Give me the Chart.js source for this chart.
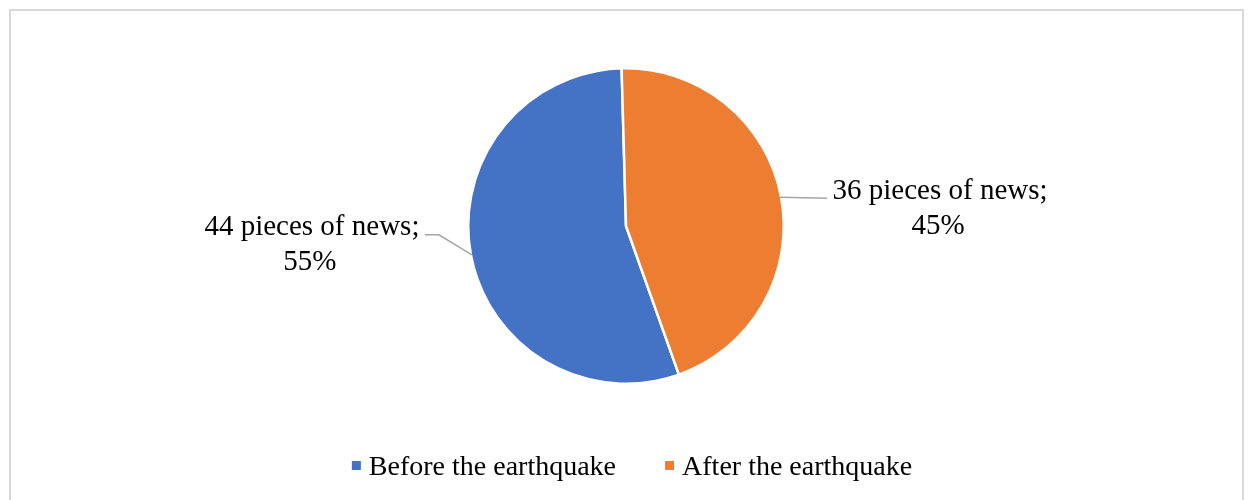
<!DOCTYPE html>
<html>
<head>
<meta charset="utf-8">
<title>News before and after the earthquake</title>
<script src="https://cdn.jsdelivr.net/npm/chart.js@4/dist/chart.umd.min.js"></script>
<style>
  html, body { margin: 0; padding: 0; background: #ffffff; }
  #wrap { width: 1248px; height: 500px; }
</style>
</head>
<body>
<div id="wrap"><canvas id="chart" width="1248" height="500"></canvas></div>
<script>
// Number of news items, split by period
const categories = ['Before the earthquake', 'After the earthquake'];
const newsCounts = [44, 36];
const sliceColors = ['#4472C4', '#ED7D31'];

const SERIF = '"Liberation Serif", "Times New Roman", serif';

// Data-label placement for each slice, relative to the point where the
// slice's mid-angle meets the rim. Leader lines run from that point.
const labelLayout = [
  { textDx: -160, baselineDy: -20, leader: [[-33, -20], [-47, -20]] },
  { textDx: 160, baselineDy: 2, leader: [[47, 1]] }
];

// Light grey frame round the chart
const framePlugin = {
  id: 'frame',
  beforeDraw(chart) {
    const ctx = chart.ctx;
    ctx.save();
    ctx.fillStyle = '#ffffff';
    ctx.fillRect(0, 0, chart.width, chart.height);
    ctx.strokeStyle = '#d9d9d9';
    ctx.lineWidth = 2;
    ctx.strokeRect(10, 10, chart.width - 15, chart.height + 100);
    ctx.restore();
  }
};

// "N pieces of news; P%" labels with leader lines
const sliceLabelPlugin = {
  id: 'sliceLabels',
  afterDatasetsDraw(chart) {
    const ctx = chart.ctx;
    const ds = chart.data.datasets[0];
    const total = ds.data.reduce((a, b) => a + b, 0);
    const meta = chart.getDatasetMeta(0);
    ctx.save();
    meta.data.forEach((arc, i) => {
      const p = arc.getProps(['x', 'y', 'startAngle', 'endAngle', 'outerRadius'], true);
      const mid = (p.startAngle + p.endAngle) / 2;
      const px = p.x + Math.cos(mid) * (p.outerRadius - 1);
      const py = p.y + Math.sin(mid) * (p.outerRadius - 1);
      const lay = labelLayout[i];

      ctx.strokeStyle = '#a6a6a6';
      ctx.lineWidth = 1.5;
      ctx.beginPath();
      ctx.moveTo(px, py);
      lay.leader.forEach(([dx, dy]) => ctx.lineTo(px + dx, py + dy));
      ctx.stroke();

      const v = ds.data[i];
      const pct = Math.round(v / total * 100);
      ctx.fillStyle = '#000000';
      ctx.font = '29px ' + SERIF;
      ctx.textAlign = 'center';
      ctx.textBaseline = 'alphabetic';
      const tx = px + lay.textDx;
      const ty = py + lay.baselineDy;
      ctx.fillText(v + ' pieces of news;', tx, ty);
      ctx.fillText(pct + '%', tx - 2, ty + 35);
    });
    ctx.restore();
  }
};

// Legend row under the pie: small squares followed by the category names
const legendRowPlugin = {
  id: 'legendRow',
  afterDraw(chart) {
    const ctx = chart.ctx;
    const labels = chart.data.labels;
    const colors = chart.data.datasets[0].backgroundColor;
    const box = 9, boxGap = 8, itemGap = 49, baseline = 475, centerX = 632;
    ctx.save();
    ctx.font = '28px ' + SERIF;
    ctx.textBaseline = 'alphabetic';
    ctx.textAlign = 'left';
    const widths = labels.map(t => ctx.measureText(t).width);
    const total = widths.reduce((s, w) => s + box + boxGap + w, 0) + itemGap * (labels.length - 1);
    let x = centerX - total / 2;
    labels.forEach((t, i) => {
      ctx.fillStyle = colors[i];
      ctx.fillRect(x, baseline - 14, box, box);
      x += box + boxGap;
      ctx.fillStyle = '#000000';
      ctx.fillText(t, x, baseline);
      x += widths[i] + itemGap;
    });
    ctx.restore();
  }
};

new Chart(document.getElementById('chart'), {
  type: 'pie',
  data: {
    labels: categories,
    datasets: [{
      data: newsCounts,
      backgroundColor: sliceColors,
      borderColor: '#ffffff',
      borderWidth: 2.5,
      hoverOffset: 0
    }]
  },
  options: {
    responsive: false,
    devicePixelRatio: 1,
    animation: false,
    rotation: 160.4,
    layout: { padding: { top: 67, bottom: 115, left: 4, right: 0 } },
    plugins: {
      legend: { display: false },
      tooltip: { enabled: false }
    }
  },
  plugins: [framePlugin, sliceLabelPlugin, legendRowPlugin]
});
</script>
</body>
</html>
